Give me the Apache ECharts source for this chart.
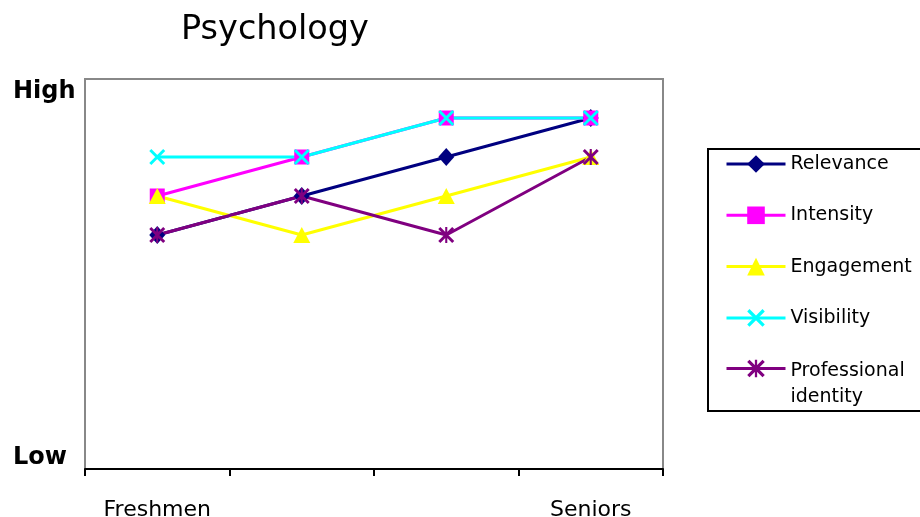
<!DOCTYPE html>
<html>
<head>
<meta charset="utf-8">
<script src="https://cdn.jsdelivr.net/npm/echarts@6/dist/echarts.min.js"></script>
<style>
  html, body { margin: 0; padding: 0; background: #fff; }
  #chart { width: 920px; height: 517px; }
</style>
</head>
<body>
<div id="chart"></div>
<script>
// Survey stages and the labels shown under the axis
const categories = ['Freshmen', 'Sophomores', 'Juniors', 'Seniors'];
const xTickLabels = ['Freshmen', '', '', 'Seniors'];

// Scale: 0 = Low, 5 = High
const yTickLabels = { 0: 'Low', 5: 'High' };

const relevance = [3, 3.5, 4, 4.5];
const intensity = [3.5, 4, 4.5, 4.5];
const engagement = [3.5, 3, 3.5, 4];
const visibility = [4, 4, 4.5, 4.5];
const professionalIdentity = [3, 3.5, 3, 4];

const FONT = 'DejaVu Sans';

// Stroke-like marker shapes built as filled outlines
const crossPath = 'path://M0,1.3L1.3,0L10,8.7L8.7,10Z M8.7,0L10,1.3L1.3,10L0,8.7Z';
const starPath = 'path://M0,1.3L1.3,0L10,8.7L8.7,10Z M8.7,0L10,1.3L1.3,10L0,8.7Z M4.35,0L5.65,0L5.65,10L4.35,10Z';

function lineSeries(name, data, color, symbol, size) {
  return {
    name: name,
    type: 'line',
    data: data,
    symbol: symbol,
    symbolSize: size,
    showAllSymbol: true,
    lineStyle: { color: color, width: 3 },
    itemStyle: { color: color, borderWidth: 0 },
    emphasis: { disabled: true },
    animation: false,
    z: 3
  };
}

const chart = echarts.init(document.getElementById('chart'), null, { renderer: 'canvas' });

chart.setOption({
  backgroundColor: '#ffffff',
  animation: false,
  title: {
    text: 'Psychology',
    left: 176,
    top: 8,
    textStyle: { fontFamily: FONT, fontSize: 33.5, fontWeight: 'normal', color: '#000' }
  },
  grid: {
    left: 85, right: 257, top: 79, bottom: 48,
    outerBoundsMode: 'none',
    containLabel: false,
    show: true,
    borderColor: '#888888',
    borderWidth: 2,
    backgroundColor: 'transparent'
  },
  xAxis: {
    type: 'category',
    data: categories,
    boundaryGap: true,
    axisLine: { show: true, lineStyle: { color: '#000', width: 2 } },
    axisTick: { show: true, length: 7, lineStyle: { color: '#000', width: 2 } },
    axisLabel: {
      interval: 0,
      margin: 30,
      fontFamily: FONT,
      fontSize: 22,
      color: '#000',
      formatter: function (v, i) { return xTickLabels[i]; }
    },
    splitLine: { show: false }
  },
  yAxis: {
    type: 'value',
    min: 0,
    max: 5,
    interval: 5,
    axisLine: { show: false },
    axisTick: { show: false },
    splitLine: { show: false },
    axisLabel: {
      margin: 72,
      align: 'left',
      fontFamily: FONT,
      fontSize: 24,
      fontWeight: 'bold',
      color: '#000',
      formatter: function (v) {
        return v === 5 ? '{hi|' + yTickLabels[5] + '}' : '{lo|' + yTickLabels[0] + '}';
      },
      rich: {
        hi: { fontFamily: FONT, fontSize: 24, fontWeight: 'bold', color: '#000', padding: [26, 0, 0, 0] },
        lo: { fontFamily: FONT, fontSize: 24, fontWeight: 'bold', color: '#000', padding: [0, 0, 22, 0] }
      }
    }
  },
  legend: [
    {
      orient: 'vertical',
      left: 725,
      top: 153,
      padding: 0,
      itemWidth: 59,
      itemHeight: 22,
      itemGap: 29.3,
      selectedMode: false,
      lineStyle: { width: 3 },
      data: ['Relevance', 'Intensity', 'Engagement', 'Visibility'],
      textStyle: { fontFamily: FONT, fontSize: 19, color: '#000', lineHeight: 22 }
    },
    {
      orient: 'vertical',
      left: 725,
      top: 330,
      padding: 0,
      itemWidth: 59,
      itemHeight: 22,
      selectedMode: false,
      lineStyle: { width: 3 },
      data: ['Professional identity'],
      formatter: function () { return '{p|Professional\nidentity}'; },
      textStyle: {
        fontFamily: FONT, fontSize: 19, color: '#000', lineHeight: 26,
        rich: { p: { fontFamily: FONT, fontSize: 19, color: '#000', lineHeight: 26, padding: [32, 0, 0, 0] } }
      }
    }
  ],
  graphic: [{
    type: 'rect',
    shape: { x: 708, y: 149, width: 230, height: 262 },
    style: { fill: 'none', stroke: '#000', lineWidth: 2 },
    silent: true,
    z: 0
  }],
  series: [
    lineSeries('Relevance', relevance, '#000080', 'diamond', [16, 18]),
    lineSeries('Intensity', intensity, '#ff00ff', 'rect', [15, 15]),
    lineSeries('Engagement', engagement, '#ffff00', 'triangle', [17, 16]),
    lineSeries('Visibility', visibility, '#00ffff', crossPath, [16, 16]),
    lineSeries('Professional identity', professionalIdentity, '#800080', starPath, [16, 16])
  ]
});
</script>
</body>
</html>
